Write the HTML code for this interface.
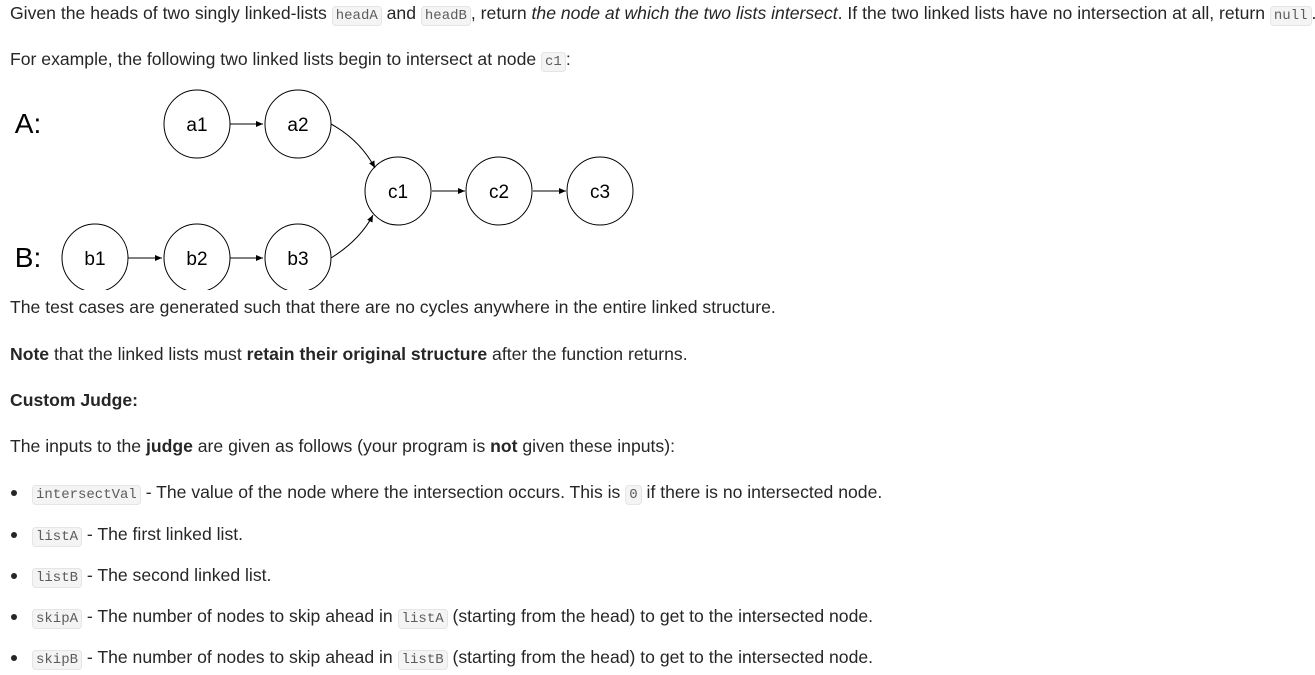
<!DOCTYPE html>
<html><head><meta charset="utf-8"><style>
body{margin:0;width:1315px;height:675px;background:#fff;overflow:hidden;font-family:"Liberation Sans",sans-serif;font-size:17.6px;color:#262626;}
.l{position:absolute;left:10px;white-space:nowrap;line-height:20px;}
code{font-family:"Liberation Mono",monospace;font-size:14px;color:#5c5c5c;background:#f4f4f5;border:1px solid #e5e5e5;border-radius:4px;padding:1px 3px;}
.b{position:absolute;left:11px;width:6px;height:6px;border-radius:50%;background:#262626;}
.li{left:32px;}
svg{position:absolute;left:0;top:80px;}
</style></head><body>
<div class="l" style="top:3px">Given the heads of two singly linked-lists <code>headA</code> and <code>headB</code>, return <i>the node at which the two lists intersect</i>. If the two linked lists have no intersection at all, return <code>null</code>.</div>
<div class="l" style="top:49px">For example, the following two linked lists begin to intersect at node <code>c1</code>:</div>
<svg width="660" height="210" viewBox="0 80 660 210">
<defs><marker id="m" markerWidth="8" markerHeight="8" refX="7" refY="3" orient="auto"><path d="M0,0L7,3L0,6z" fill="#000"/></marker></defs>
<g font-family="Liberation Sans,sans-serif" font-size="19" text-anchor="middle" fill="#000">
<text x="28" y="133" font-size="28">A:</text>
<text x="28" y="267" font-size="28">B:</text>
<g fill="#fff" stroke="#000" stroke-width="1">
<ellipse cx="197" cy="124" rx="33" ry="34"/><ellipse cx="298" cy="124" rx="33" ry="34"/>
<ellipse cx="398" cy="191" rx="33" ry="34"/><ellipse cx="499" cy="191" rx="33" ry="34"/><ellipse cx="600" cy="191" rx="33" ry="34"/>
<ellipse cx="95" cy="258" rx="33" ry="34"/><ellipse cx="197" cy="258" rx="33" ry="34"/><ellipse cx="298" cy="258" rx="33" ry="34"/>
</g>
<g stroke="#000" stroke-width="1" fill="none" marker-end="url(#m)">
<path d="M230,124H263"/><path d="M432,191H465"/><path d="M533,191H566"/>
<path d="M128,258H162"/><path d="M230,258H263"/>
<path d="M331,124Q360,140 375,168"/><path d="M331,258Q360,240 373,215"/>
</g>
<text x="197" y="131">a1</text><text x="298" y="131">a2</text>
<text x="398" y="198">c1</text><text x="499" y="198">c2</text><text x="600" y="198">c3</text>
<text x="95" y="265">b1</text><text x="197" y="265">b2</text><text x="298" y="265">b3</text>
</g>
</svg>
<div class="l" style="top:297px">The test cases are generated such that there are no cycles anywhere in the entire linked structure.</div>
<div class="l" style="top:344px"><b>Note</b> that the linked lists must <b>retain their original structure</b> after the function returns.</div>
<div class="l" style="top:390px"><b>Custom Judge:</b></div>
<div class="l" style="top:436px">The inputs to the <b>judge</b> are given as follows (your program is <b>not</b> given these inputs):</div>
<div class="b" style="top:490px"></div><div class="l li" style="top:482px"><code>intersectVal</code> - The value of the node where the intersection occurs. This is <code>0</code> if there is no intersected node.</div>
<div class="b" style="top:532px"></div><div class="l li" style="top:524px"><code>listA</code> - The first linked list.</div>
<div class="b" style="top:573px"></div><div class="l li" style="top:565px"><code>listB</code> - The second linked list.</div>
<div class="b" style="top:614px"></div><div class="l li" style="top:606px"><code>skipA</code> - The number of nodes to skip ahead in <code>listA</code> (starting from the head) to get to the intersected node.</div>
<div class="b" style="top:655px"></div><div class="l li" style="top:647px"><code>skipB</code> - The number of nodes to skip ahead in <code>listB</code> (starting from the head) to get to the intersected node.</div>
</body></html>
